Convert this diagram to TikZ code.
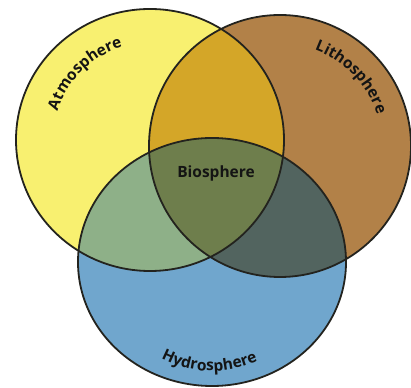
\documentclass[tikz,border=0pt]{standalone}
\usepackage{fontspec}
\setmainfont{Open Sans}
\usetikzlibrary{decorations.text}
\definecolor{cyel}{RGB}{248,240,112}
\definecolor{cbro}{RGB}{178,129,72}
\definecolor{cblu}{RGB}{112,166,205}
\definecolor{cyb}{RGB}{212,166,40}
\definecolor{cyh}{RGB}{142,176,136}
\definecolor{cbh}{RGB}{82,100,95}
\definecolor{call}{RGB}{110,126,76}
\definecolor{cline}{RGB}{35,35,30}
\definecolor{ctext}{RGB}{20,20,20}
\tikzset{
  outline/.style={draw=cline, line width=1.8pt},
  curvetext/.style={decorate, decoration={text along path, text align=center,
     text color=ctext, text={|\bfseries\fontsize{15.5}{15.5}\selectfont|#1}}}
}
\begin{document}
\begin{tikzpicture}[x=1pt,y=1pt]
\useasboundingbox (0,0) rectangle (411,387);
\coordinate (A) at (150,247);
\coordinate (L) at (280,241);
\coordinate (H) at (212,125);
% base fills
\fill[cyel] (A) ellipse [x radius=134, y radius=131];
\fill[cbro] (L) circle [radius=131];
\fill[cblu] (H) ellipse [x radius=134, y radius=124];
% pairwise overlaps
\begin{scope}
  \clip (A) ellipse [x radius=134, y radius=131];
  \fill[cyb] (L) circle [radius=131];
\end{scope}
\begin{scope}
  \clip (A) ellipse [x radius=134, y radius=131];
  \fill[cyh] (H) ellipse [x radius=134, y radius=124];
\end{scope}
\begin{scope}
  \clip (L) circle [radius=131];
  \fill[cbh] (H) ellipse [x radius=134, y radius=124];
\end{scope}
\begin{scope}
  \clip (A) ellipse [x radius=134, y radius=131];
  \clip (L) circle [radius=131];
  \fill[call] (H) ellipse [x radius=134, y radius=124];
\end{scope}
% outlines
\draw[outline] (A) ellipse [x radius=134, y radius=131];
\draw[outline] (L) circle [radius=131];
\draw[outline] (H) ellipse [x radius=134, y radius=124];
% labels
\path[curvetext=Atmosphere] (A) ++(172:97) arc [start angle=172, end angle=97, radius=97];
\path[curvetext=Lithosphere] (L) ++(82:102) arc [start angle=82, end angle=6, radius=102];
\path[curvetext=Hydrosphere] (H) ++(226:109) arc [start angle=226, end angle=311, radius=109];
\node[text=ctext, font=\bfseries\fontsize{15.5}{15.5}\selectfont] (bio) at (216,214) {Biosphere};
\end{tikzpicture}
\end{document}
